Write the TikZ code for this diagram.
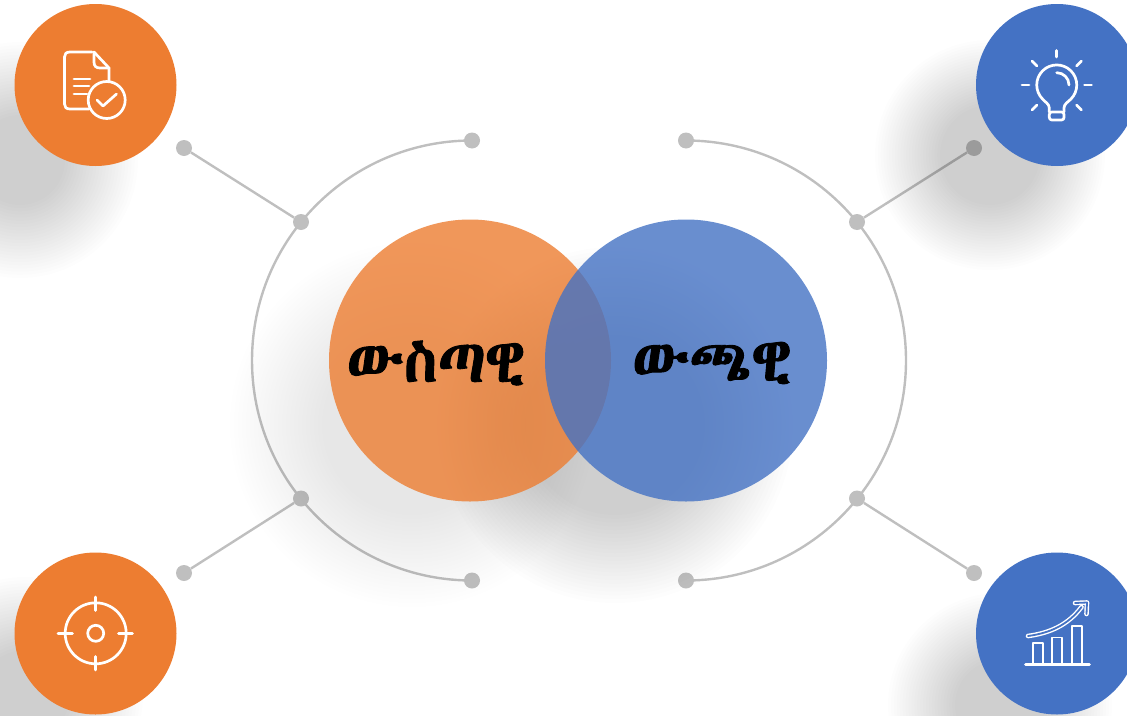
\documentclass[tikz,border=0pt]{standalone}
\usepackage{fontspec}
\newfontfamily\ethfont[FakeBold=1.5]{Abyssinica SIL}
\definecolor{org}{HTML}{ED7D31}
\definecolor{blu}{HTML}{4472C4}
\tikzset{
  dotnode/.style={circle,fill=black,inner sep=0pt,minimum size=16pt},
  greyline/.style={draw=black,line width=2.4pt},
  icon/.style={draw=white,line width=2.7pt,line cap=round,line join=round},
  discA/.style={circle,fill=org,inner sep=0pt,minimum size=162pt},
  discB/.style={circle,fill=blu,inner sep=0pt,minimum size=162pt},
  vennA/.style={circle,fill=org,fill opacity=.8,inner sep=0pt,minimum size=282pt},
  vennB/.style={circle,fill=blu,fill opacity=.8,inner sep=0pt,minimum size=282pt},
  venntext/.style={font=\ethfont\fontsize{61}{66}\selectfont,text=black,inner sep=0pt},
}
\newcommand{\softblob}[5]{% cx cy rinner router opacity-per-step
  \foreach \i in {0,...,23}{
    \pgfmathsetmacro{\rr}{#3+(#4-#3)*\i/23}
    \fill[black,fill opacity=#5] (#1,#2) circle[radius=\rr];
  }}
\begin{document}
\begin{tikzpicture}[x=1pt,y=-1pt]
\useasboundingbox (0,0) rectangle (1127,715);
\fill[white] (0,0) rectangle (1127,715);
\begin{scope}
\clip (0,0) rectangle (1127,715);
\softblob{20}{160}{45}{118}{.0062}
\softblob{990}{155}{50}{115}{.0072}
\softblob{25}{695}{45}{118}{.0062}
\softblob{1000}{705}{45}{112}{.0065}
\softblob{412}{425}{90}{182}{.0052}
\softblob{615}{425}{90}{178}{.0060}
\end{scope}
\node[vennA] (va) at (470,360.5) {};
\node[vennB] (vb) at (686,360.5) {};
\node[venntext] (ta) at (436,363) {ውስጣዊ};
\node[venntext] (tb) at (712,363) {ውጫዊ};
\node[discA] (da) at (95.5,85) {};
\node[discB] (db) at (1057,85) {};
\node[discA] (dc) at (95.5,633.5) {};
\node[discB] (dd) at (1057,633.5) {};
\begin{scope}[transparency group,opacity=.25]
\node[dotnode] (t1) at (472,140.5) {};
\node[dotnode] (t2) at (686,140.5) {};
\node[dotnode] (b1) at (472,580.5) {};
\node[dotnode] (b2) at (686,580.5) {};
\node[dotnode] (m1) at (301,222) {};
\node[dotnode] (m2) at (857,222) {};
\node[dotnode] (m3) at (301,498.5) {};
\node[dotnode] (m4) at (857,498.5) {};
\node[dotnode] (e1) at (184,148) {};
\node[dotnode] (e2) at (974,148) {};
\node[dotnode] (e3) at (184,573) {};
\node[dotnode] (e4) at (974,573) {};
\draw[greyline] (t1.center) arc[start angle=270,end angle=90,radius=220];
\draw[greyline] (t2.center) arc[start angle=-90,end angle=90,radius=220];
\draw[greyline] (e1) -- (m1);
\draw[greyline] (e2) -- (m2);
\draw[greyline] (e3) -- (m3);
\draw[greyline] (e4) -- (m4);
\end{scope}
% icons
\draw[icon] (92,52) -- (70,52) .. controls (66,52) and (64.5,54) .. (64.5,57) -- (64.5,104) .. controls (64.5,107) and (66,109) .. (70,109) -- (89,109);
\draw[icon] (94,52) -- (109,68) -- (109,81);
\draw[icon] (94,52) -- (94,62) .. controls (94,66) and (96,68) .. (100,68) -- (109,68);
\draw[icon] (74,79) -- (90,79);
\draw[icon] (74,86) -- (89,86);
\draw[icon] (74,94) -- (87,94);
\draw[icon] (106.7,100) circle[radius=18.5];
\draw[icon] (97,100) -- (103,106) -- (116.5,94);
\draw[icon] (1056.7,50.5) -- (1056.7,57);
\draw[icon] (1022,85) -- (1029,85);
\draw[icon] (1084.5,85) -- (1091.5,85);
\draw[icon] (1032,61) -- (1037,66);
\draw[icon] (1081.5,61) -- (1076.5,66);
\draw[icon] (1037,105) -- (1032,110);
\draw[icon] (1076.5,105) -- (1081.5,110);
\draw[icon] (1049.3,112) -- (1049.3,108) .. controls (1049.3,104) and (1045,102) .. (1042.6,99.1) arc[start angle=135,end angle=405,radius=20] .. controls (1068,102) and (1064,104) .. (1064,108) -- (1064,112);
\draw[icon,rounded corners=2.5pt] (1049.3,112) -- (1049.3,120) -- (1064,120) -- (1064,112) -- cycle;
\draw[icon] (1056.7,72.7) arc[start angle=270,end angle=360,radius=12.3];
\draw[icon] (95.7,633.3) circle[radius=30.5];
\draw[icon] (95.7,633.3) circle[radius=8];
\draw[icon] (95.7,597) -- (95.7,610.5);
\draw[icon] (95.7,656.5) -- (95.7,670);
\draw[icon] (58,633.3) -- (72.5,633.3);
\draw[icon] (118.5,633.3) -- (132.5,633.3);
\draw[icon] (1025.5,664.7) -- (1089.5,664.7);
\draw[icon,line width=1.6pt] (1032.7,664.7) -- (1032.7,642.7) -- (1042.7,642.7) -- (1042.7,664.7);
\draw[icon,line width=1.6pt] (1052,664.7) -- (1052,637.3) -- (1062,637.3) -- (1062,664.7);
\draw[icon,line width=1.6pt] (1071.7,664.7) -- (1071.7,626) -- (1082,626) -- (1082,664.7);
\draw[icon,line width=1.4pt,double=blu,double distance=1.8pt] (1028,636) .. controls (1050,633) and (1068,625) .. (1081.5,607);
\draw[icon,line width=1.4pt,double=blu,double distance=1.8pt] (1075,603) -- (1087,602.5) -- (1086.5,614);
\end{tikzpicture}
\end{document}
